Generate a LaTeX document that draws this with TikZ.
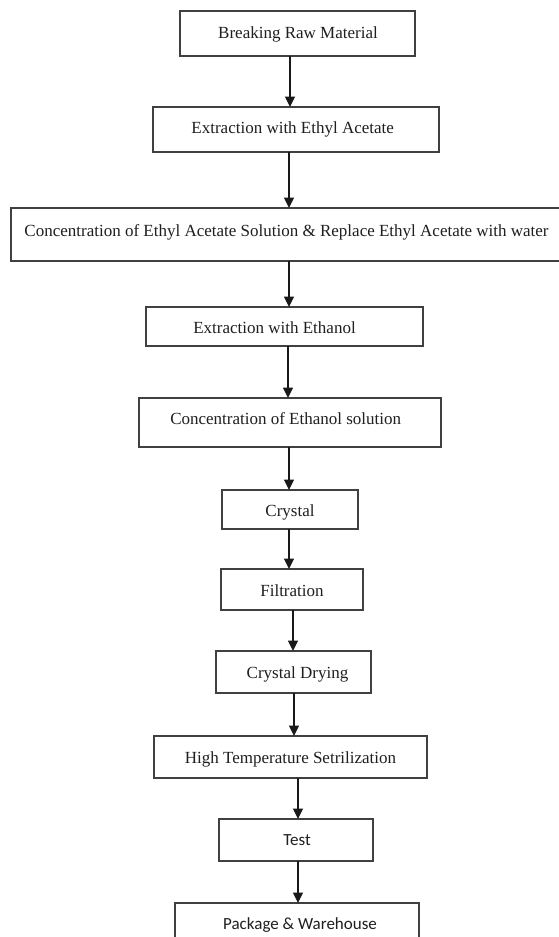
\documentclass[tikz,border=0pt]{standalone}
\usepackage{fontspec}
\setmainfont{Liberation Serif}
\newfontfamily\calib{Carlito}
\usetikzlibrary{arrows.meta}
\tikzset{
  stepbox/.style={draw=black!75, line width=1.6pt, inner sep=0pt, outer sep=0pt, fill=white},
  txt/.style={inner sep=0pt, text=black!88, font=\fontsize{17}{20}\selectfont, anchor=base},
  stxt/.style={txt, font=\calib\fontsize{17}{20}\selectfont},
  arr/.style={draw=black!90, line width=1.3pt, -{Triangle[length=10.5pt,width=10pt]}}
}
\begin{document}
\begin{tikzpicture}[x=1pt,y=-1pt]
\useasboundingbox (0,0) rectangle (559,937);
\clip (0,0) rectangle (559,937);
\fill[white] (0,0) rectangle (559,937);
% boxes
\node[stepbox, minimum width=235pt, minimum height=45pt] (b1) at (297.5,33.5) {};
\node[stepbox, minimum width=286pt, minimum height=45pt] (b2) at (296,129.5) {};
\node[stepbox, minimum width=560pt, minimum height=53pt] (b3) at (290.7,234.5) {};
\node[stepbox, minimum width=277pt, minimum height=39pt] (b4) at (284.5,326.5) {};
\node[stepbox, minimum width=302pt, minimum height=49pt] (b5) at (290,422.5) {};
\node[stepbox, minimum width=136pt, minimum height=39pt] (b6) at (290,509.5) {};
\node[stepbox, minimum width=142pt, minimum height=41pt] (b7) at (292,589.5) {};
\node[stepbox, minimum width=155pt, minimum height=42pt] (b8) at (293.5,672) {};
\node[stepbox, minimum width=273pt, minimum height=42pt] (b9) at (290.5,757) {};
\node[stepbox, minimum width=154pt, minimum height=42pt] (b10) at (296,840) {};
\node[stepbox, minimum width=244pt, minimum height=47pt] (b11) at (297,926.5) {};
% texts
\node[txt] (t1) at (298,38) {Breaking Raw Material};
\node[txt] (t2) at (292.7,133) {Extraction with Ethyl Acetate};
\node[txt] (t3) at (286.5,236) {Concentration of Ethyl Acetate Solution \& Replace Ethyl Acetate with water};
\node[txt] (t4) at (274.5,333) {Extraction with Ethanol};
\node[txt] (t5) at (285.7,424) {Concentration of Ethanol solution};
\node[txt] (t6) at (290,516) {Crystal};
\node[txt] (t7) at (292,596) {Filtration};
\node[txt] (t8) at (297.5,678) {Crystal Drying};
\node[txt] (t9) at (290.5,763) {High Temperature Setrilization};
\node[stxt] (t10) at (297,845) {Test};
\node[stxt] (t11) at (300,929) {Package \& Warehouse};
% arrows
\draw[arr] ([xshift=-7.5pt]b1.south) -- ([xshift=-6pt]b2.north);
\draw[arr] ([xshift=-7pt]b2.south) -- ([xshift=-1.7pt]b3.north);
\draw[arr] ([xshift=-1.7pt]b3.south) -- ([xshift=4.5pt]b4.north);
\draw[arr] ([xshift=3.5pt]b4.south) -- ([xshift=-2pt]b5.north);
\draw[arr] ([xshift=-1pt]b5.south) -- ([xshift=-1pt]b6.north);
\draw[arr] ([xshift=-1pt]b6.south) -- ([xshift=-3pt]b7.north);
\draw[arr] ([xshift=1pt]b7.south) -- ([xshift=-0.5pt]b8.north);
\draw[arr] ([xshift=0.5pt]b8.south) -- ([xshift=3.5pt]b9.north);
\draw[arr] ([xshift=7.5pt]b9.south) -- ([xshift=2pt]b10.north);
\draw[arr] ([xshift=2pt]b10.south) -- ([xshift=1pt]b11.north);
\end{tikzpicture}
\end{document}
